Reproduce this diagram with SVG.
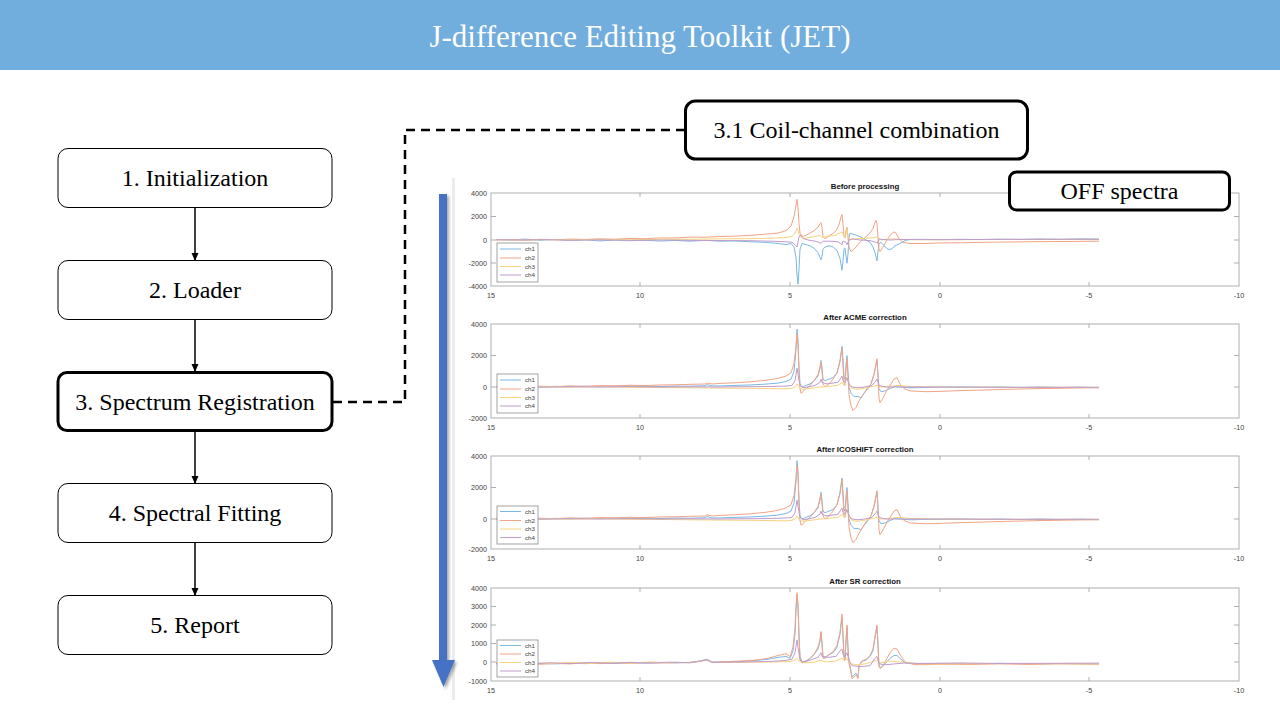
<svg xmlns="http://www.w3.org/2000/svg" xmlns:xlink="http://www.w3.org/1999/xlink" width="1280" height="720" viewBox="0 0 1280 720">
<style>
.hdr{font-family:"Liberation Serif","Times New Roman",serif;font-size:31px;fill:#fff;text-anchor:middle}
.box{fill:#fff;stroke:#000;stroke-width:1}
.boxb{fill:#fff;stroke:#000;stroke-width:3}
.lbl{font-family:"Liberation Serif","Times New Roman",serif;font-size:24px;fill:#000;text-anchor:middle}
.conn{fill:none;stroke:#000;stroke-width:1.5}
.dash{fill:none;stroke:#000;stroke-width:2.5;stroke-dasharray:9 6}
.frame{fill:#fff;stroke:#a6a6a6;stroke-width:0.9}
.tick{fill:none;stroke:#a6a6a6;stroke-width:0.9}
.tly{font-family:"Liberation Sans",Arial,sans-serif;font-size:7.2px;fill:#404040;text-anchor:end}
.tlx{font-family:"Liberation Sans",Arial,sans-serif;font-size:7.2px;fill:#404040;text-anchor:middle}
.ttl{font-family:"Liberation Sans",Arial,sans-serif;font-size:7.8px;font-weight:bold;fill:#111;text-anchor:middle}
.leg{fill:#fff;stroke:#8c8c8c;stroke-width:0.8}
.lt{font-family:"Liberation Sans",Arial,sans-serif;font-size:6.2px;fill:#404040}
.c1{fill:none;stroke:#7ab8e6;stroke-width:1;vector-effect:non-scaling-stroke}
.c2{fill:none;stroke:#f2a484;stroke-width:1;vector-effect:non-scaling-stroke}
.c3{fill:none;stroke:#f7d27e;stroke-width:1;vector-effect:non-scaling-stroke}
.c4{fill:none;stroke:#c09ccd;stroke-width:1;vector-effect:non-scaling-stroke}
</style>
<defs>
<marker id="ah" markerWidth="8" markerHeight="8" refX="7" refY="4" orient="auto" markerUnits="userSpaceOnUse">
<path d="M0,0.5 L8,4 L0,7.5 Z" fill="#000"/>
</marker>
<filter id="sh" x="-50%" y="-5%" width="200%" height="110%">
<feDropShadow dx="2" dy="2" stdDeviation="1.5" flood-color="#000" flood-opacity="0.35"/>
</filter>
<path id="p1c1" class="c1" d="M496,0.5 L510,0 L525,0.8 L540,-0.2 L555,0.5 L570,-0.5 L585,0.2 L600,-0.8 L615,0 L630,-0.6 L645,-0.2 L660,-0.9 L675,-0.4 L690,-1 L705,-0.3 L720,-1 L735,-0.8 L750,-1.5 L765,-2 L778,-3 L786,-4 L791,-3 L794,-6 L796,-15 L797,-30 L798,-38 L799,-25 L800,-8 L802,-3 L806,-4 L810,-5 L814,-7 L818,-11 L820,-15 L821,-17 L822,-14 L823,-8 L825,-6 L829,-5 L833,-6 L837,-9 L840,-16 L842,-26 L843,-18 L844,-8 L845,-7 L846,-14 L847,-20 L848,-12 L849,2 L850,6 L853,5 L857,4 L862,2 L866,0 L870,-2 L873,-6 L875,-11 L877,-18 L878,-10 L879,-3 L881,-2 L884,-5 L888,-8 L891,-8 L895,-5 L900,-3 L905,-0.5 L910,0.5 L925,0.5 L940,0.3 L960,0.6 L980,0.4 L1000,0.7 L1020,0.5 L1040,0.9 L1060,0.6 L1080,1 L1099,0.8"/>
<path id="p1c2" class="c2" d="M496,0 L510,0.5 L525,-0.2 L540,0.6 L555,0.2 L570,0.8 L585,0.5 L600,1 L615,0.7 L630,1.3 L645,1.1 L660,1.8 L675,1.7 L690,2.5 L705,2.4 L720,3 L735,3.3 L750,4 L765,5 L778,6 L786,8 L791,12 L794,20 L796,30 L797,35 L798,28 L799,14 L800,6 L802,3 L806,4 L810,6 L814,8 L818,11 L820,14 L821,15 L822,11 L823,3 L825,1 L828,3 L832,5 L836,8 L839,13 L841,20 L842,22 L843,14 L844,3 L845,2 L846,8 L847,11 L848,2 L849,-6 L851,-10 L854,-8 L858,-4 L862,0 L866,3 L870,6 L873,10 L875,15 L876,17 L877,14 L878,2 L879,-8 L880,-10 L883,-6 L887,0 L891,5 L894,7 L896,6 L899,1 L903,-2 L910,-3 L925,-3 L940,-2.5 L960,-2.4 L980,-2 L1000,-1.8 L1020,-1.6 L1040,-1.4 L1060,-1.3 L1080,-1.2 L1099,-1"/>
<path id="p1c3" class="c3" d="M496,0.3 L520,-0.2 L545,0.4 L570,0 L600,0.5 L630,0.2 L660,0.7 L690,0.6 L720,1 L750,1.2 L770,1.5 L785,2 L792,3 L795,6 L797,10 L798,8 L800,3 L803,1 L808,2 L815,3 L820,4 L822,2 L826,3 L835,4 L840,6 L842,7 L844,3 L846,5 L847,9 L848,4 L850,0 L855,1 L865,1.5 L875,2 L877,3 L879,0 L885,0.5 L895,1 L905,0.3 L940,0.2 L1000,0.5 L1099,0.6"/>
<path id="p1c4" class="c4" d="M496,0.2 L520,0 L545,0.3 L570,-0.2 L600,0.1 L630,-0.3 L660,0 L690,-0.3 L720,-0.5 L750,-0.6 L770,-1 L785,-1.5 L792,-2 L795,-4 L797,-6 L798,-2 L799,3 L801,4 L804,1 L808,0 L815,-1 L819,-2 L821,-3 L823,-1 L830,-1 L838,-1.5 L842,-4 L843,-1 L846,-2 L847,-4 L849,0 L852,1 L860,0 L870,-0.5 L876,-2 L877,-3 L879,1 L882,0.5 L890,0 L900,0.4 L940,0.3 L1000,0.5 L1099,0.6"/>
<path id="p2c1" class="c1" d="M496,0.2 L510,-0.1 L525,0.3 L540,0 L555,0.4 L570,0.1 L585,0.5 L600,0.2 L615,0.6 L630,0.4 L645,0.5 L660,0.3 L675,0.6 L690,0.5 L705,0.8 L707,1.5 L712,0.7 L720,0.7 L735,1 L750,1.3 L765,1.8 L778,2.5 L786,3.5 L791,5 L794,10 L796,24 L797,37 L798,30 L799,12 L800,2 L802,0 L806,1 L810,2 L814,4 L818,7 L820,12 L821,17 L822,12 L823,5 L825,4 L829,5 L833,6 L837,9 L840,17 L842,26 L843,17 L844,6 L845,5 L846,14 L847,20 L848,10 L849,0 L851,-4 L854,-6 L858,-6 L861,-7 L864,-4 L868,-1 L871,2 L874,8 L876,14 L877,17 L878,8 L879,-1 L881,-3 L885,-2.5 L890,-1 L895,0.5 L900,0 L910,-0.5 L925,-0.3 L940,-0.2 L960,0 L980,-0.2 L1000,0 L1020,-0.3 L1040,0 L1060,-0.3 L1080,-0.1 L1099,-0.4"/>
<path id="p2c2" class="c2" d="M496,0 L510,0.4 L525,-0.1 L540,0.5 L555,0.2 L570,0.7 L585,0.4 L600,0.9 L615,0.7 L630,1.1 L645,0.9 L660,1.3 L675,1.4 L690,1.7 L705,1.9 L707,2.6 L712,1.9 L720,2.3 L735,2.7 L750,3.3 L765,4.2 L778,5.5 L786,7 L791,9 L794,15 L796,26 L797,34 L798,27 L799,10 L800,-1 L801,-4 L803,-3 L806,-1 L810,1 L814,4 L818,8 L820,13 L821,16 L822,10 L823,2 L825,0 L829,2 L833,5 L837,9 L840,16 L842,25 L843,14 L844,2 L845,1 L846,11 L847,18 L848,6 L849,-5 L851,-12 L853,-15 L856,-13 L859,-9 L863,-5 L867,-1 L871,2 L874,8 L876,15 L877,18 L878,6 L879,-7 L880,-10 L883,-7 L887,-2 L891,2 L894,5 L897,6 L900,2 L904,-1 L910,-2.5 L925,-3 L940,-2.8 L960,-2.3 L980,-2 L1000,-1.6 L1020,-1.3 L1040,-1 L1060,-0.8 L1080,-0.6 L1099,-0.5"/>
<path id="p2c3" class="c3" d="M496,0.1 L520,-0.2 L545,0.2 L570,-0.1 L600,0.2 L630,-0.2 L660,-0.3 L690,-0.5 L720,-0.7 L750,-0.8 L770,-1 L785,-1.2 L792,-0.8 L795,0 L797,2 L798,1 L800,-1 L803,-1.5 L808,-1 L815,-0.5 L820,0 L822,0 L830,0.5 L838,1 L842,3 L844,1 L847,6 L849,2 L852,-1 L857,-1.5 L863,-1 L870,0 L877,1 L880,0 L890,0.5 L900,1 L910,0.3 L940,0 L1000,-0.2 L1099,-0.2"/>
<path id="p2c4" class="c4" d="M496,0 L520,0.2 L545,-0.1 L570,0.2 L600,0 L630,0.2 L660,0 L690,0.1 L720,0 L750,0.2 L770,0.3 L785,0.6 L792,1 L795,4 L797,12 L798,8 L800,1 L803,-0.5 L808,0 L815,1 L820,3 L821,5 L822,3 L826,2 L833,2.5 L838,3 L841,6 L842,7 L843,4 L845,3 L847,6 L849,2 L852,0 L858,-0.5 L865,0 L872,1 L876,4 L877,5 L879,1 L885,0 L895,0 L940,0 L1000,-0.2 L1099,-0.2"/>
<path id="p4c1" class="c1" d="M496,-1 L510,-0.6 L525,-1.2 L540,-0.8 L555,-1 L570,-0.6 L585,-0.9 L600,-0.5 L615,-0.8 L630,-0.4 L645,-0.6 L660,-0.3 L675,-0.5 L690,-0.2 L700,0.5 L707,1.5 L712,0 L725,0 L740,0.3 L755,0.8 L768,1.5 L778,2.5 L786,3 L790,2 L793,6 L795,15 L796,28 L797,36 L798,30 L799,14 L800,3 L802,0 L806,0.5 L810,2 L814,4 L818,7 L820,11 L821,16 L822,10 L823,3 L825,2.5 L829,4 L833,5 L837,8 L840,15 L842,24 L843,14 L844,3 L845,2 L846,11 L847,19 L848,7 L849,0 L850,-2 L852,-8 L854,-7 L856,-6 L858,-8 L859,-2 L862,0.5 L866,1 L870,3 L873,6 L875,13 L877,19 L878,9 L879,-2 L881,-3 L885,-1 L890,2 L894,3.5 L897,3.5 L900,2 L905,-0.5 L915,-1 L940,-0.8 L970,-1 L1000,-0.7 L1030,-1 L1060,-0.8 L1099,-1"/>
<path id="p4c2" class="c2" d="M496,-0.6 L510,-1.1 L525,-0.7 L540,-1.2 L555,-0.8 L570,-1 L585,-0.5 L600,-0.9 L615,-0.4 L630,-0.7 L645,-0.3 L660,-0.5 L675,-0.2 L690,-0.4 L700,0.3 L707,1.2 L712,-0.2 L725,0.2 L740,0.5 L755,1 L768,2 L778,3.5 L786,4.5 L790,3 L793,8 L795,18 L796,30 L797,37.5 L798,31 L799,14 L800,2 L802,-0.5 L806,0 L810,2 L814,4 L818,8 L820,12 L821,16.5 L822,10 L823,2 L825,2 L829,4 L833,5.5 L837,9 L840,16 L842,26 L843,14 L844,2 L845,1 L846,12 L847,20 L848,7 L849,-1 L850,-3 L852,-9 L854,-8 L856,-7 L858,-9 L859,-2 L862,0.5 L866,1.5 L870,3.5 L873,7 L875,14 L877,20 L878,9 L879,-3 L881,-3.5 L885,0 L890,5 L894,7.5 L897,7 L900,4 L905,0 L915,-1.5 L940,-1.2 L970,-1.3 L1000,-1 L1030,-1.3 L1060,-1 L1099,-1.2"/>
<path id="p4c3" class="c3" d="M496,-0.5 L515,-1 L530,-0.3 L550,-0.9 L570,-0.2 L590,-0.8 L610,-0.1 L630,-0.6 L650,0 L670,-0.5 L690,-0.2 L707,1 L712,-0.3 L740,-0.2 L770,0 L790,0.2 L795,1 L797,2 L799,0.5 L805,-0.5 L815,0 L821,1 L825,0 L835,0.5 L842,2 L845,0.5 L847,2 L850,-1 L858,-1.5 L865,-1 L877,1 L880,-0.5 L890,0.5 L900,0 L920,-1 L960,-1 L1000,-0.8 L1099,-1"/>
<path id="p4c4" class="c4" d="M496,-0.8 L515,-0.3 L530,-1 L550,-0.4 L570,-0.9 L590,-0.3 L610,-0.7 L630,-0.2 L650,-0.6 L670,-0.1 L690,-0.4 L707,1.2 L712,-0.2 L740,0 L770,0.3 L785,0.8 L792,1.5 L795,5 L797,12 L798,8 L800,1 L803,0 L810,1 L818,2.5 L821,5 L822,3 L828,2.5 L836,3 L840,6 L842,7 L843,4 L845,3 L847,5 L849,1 L852,-2 L860,-2.5 L870,-2 L875,2 L877,3 L879,-1 L885,-1.5 L895,-1 L905,-0.5 L920,-0.8 L960,-0.5 L1000,-0.8 L1099,-0.6"/>
</defs>

<rect x="0" y="0" width="1280" height="720" fill="#fff"/>

<g id="header">
<rect x="0" y="0" width="1280" height="70" fill="#71addd"/>
<text class="hdr" x="640" y="47">J-difference Editing Toolkit (JET)</text>
</g>

<g id="plots">
<rect x="452" y="178" width="3" height="522" fill="#ececec"/>
<g id="panel1">
<rect class="frame" x="491" y="193" width="748" height="93"/>
<path class="tick" d="M640,193v4M790,193v4M940,193v4M1089,193v4M640,286v-4M790,286v-4M940,286v-4M1089,286v-4M491,216.5h5M491,240h5M491,263h5M1239,216.5h-5M1239,240h-5M1239,263h-5"/>
<g transform="translate(0,240) scale(1,-1.1625)">
<use xlink:href="#p1c1"/><use xlink:href="#p1c2"/><use xlink:href="#p1c3"/><use xlink:href="#p1c4"/>
</g>
<text class="ttl" x="865" y="189">Before processing</text>
<text class="tly" x="487" y="195.5">4000</text><text class="tly" x="487" y="219">2000</text><text class="tly" x="487" y="242.5">0</text><text class="tly" x="487" y="265.5">-2000</text><text class="tly" x="487" y="288.5">-4000</text>
<text class="tlx" x="491" y="298">15</text><text class="tlx" x="640" y="298">10</text><text class="tlx" x="790" y="298">5</text><text class="tlx" x="940" y="298">0</text><text class="tlx" x="1089" y="298">-5</text><text class="tlx" x="1239" y="298">-10</text>
<rect class="leg" x="497" y="243" width="41" height="39"/>
<line x1="500" y1="249" x2="521" y2="249" stroke="#7ab8e6"/><text class="lt" x="525" y="251">ch1</text>
<line x1="500" y1="258" x2="521" y2="258" stroke="#f2a484"/><text class="lt" x="525" y="260">ch2</text>
<line x1="500" y1="266.5" x2="521" y2="266.5" stroke="#f7d27e"/><text class="lt" x="525" y="268.5">ch3</text>
<line x1="500" y1="275" x2="521" y2="275" stroke="#c09ccd"/><text class="lt" x="525" y="277">ch4</text>
</g>
<g id="panel2">
<rect class="frame" x="491" y="324" width="748" height="94"/>
<path class="tick" d="M640,324v4M790,324v4M940,324v4M1089,324v4M640,418v-4M790,418v-4M940,418v-4M1089,418v-4M491,355.5h5M491,387h5M1239,355.5h-5M1239,387h-5"/>
<g transform="translate(0,387) scale(1,-1.565)">
<use xlink:href="#p2c1"/><use xlink:href="#p2c2"/><use xlink:href="#p2c3"/><use xlink:href="#p2c4"/>
</g>
<text class="ttl" x="865" y="320">After ACME correction</text>
<text class="tly" x="487" y="326.5">4000</text><text class="tly" x="487" y="358">2000</text><text class="tly" x="487" y="389.5">0</text><text class="tly" x="487" y="420.5">-2000</text>
<text class="tlx" x="491" y="430">15</text><text class="tlx" x="640" y="430">10</text><text class="tlx" x="790" y="430">5</text><text class="tlx" x="940" y="430">0</text><text class="tlx" x="1089" y="430">-5</text><text class="tlx" x="1239" y="430">-10</text>
<rect class="leg" x="497" y="374" width="41" height="39"/>
<line x1="500" y1="380" x2="521" y2="380" stroke="#7ab8e6"/><text class="lt" x="525" y="382">ch1</text>
<line x1="500" y1="389" x2="521" y2="389" stroke="#f2a484"/><text class="lt" x="525" y="391">ch2</text>
<line x1="500" y1="397.5" x2="521" y2="397.5" stroke="#f7d27e"/><text class="lt" x="525" y="399.5">ch3</text>
<line x1="500" y1="406" x2="521" y2="406" stroke="#c09ccd"/><text class="lt" x="525" y="408">ch4</text>
</g>
<g id="panel3">
<rect class="frame" x="491" y="456" width="748" height="93"/>
<path class="tick" d="M640,456v4M790,456v4M940,456v4M1089,456v4M640,549v-4M790,549v-4M940,549v-4M1089,549v-4M491,487.5h5M491,519h5M1239,487.5h-5M1239,519h-5"/>
<g transform="translate(0,519) scale(1,-1.575)">
<use xlink:href="#p2c1"/><use xlink:href="#p2c2"/><use xlink:href="#p2c3"/><use xlink:href="#p2c4"/>
</g>
<text class="ttl" x="865" y="452">After ICOSHIFT correction</text>
<text class="tly" x="487" y="458.5">4000</text><text class="tly" x="487" y="490">2000</text><text class="tly" x="487" y="521.5">0</text><text class="tly" x="487" y="551.5">-2000</text>
<text class="tlx" x="491" y="561">15</text><text class="tlx" x="640" y="561">10</text><text class="tlx" x="790" y="561">5</text><text class="tlx" x="940" y="561">0</text><text class="tlx" x="1089" y="561">-5</text><text class="tlx" x="1239" y="561">-10</text>
<rect class="leg" x="497" y="506" width="41" height="38"/>
<line x1="500" y1="511.5" x2="521" y2="511.5" stroke="#7ab8e6"/><text class="lt" x="525" y="513.5">ch1</text>
<line x1="500" y1="520.5" x2="521" y2="520.5" stroke="#f2a484"/><text class="lt" x="525" y="522.5">ch2</text>
<line x1="500" y1="529" x2="521" y2="529" stroke="#f7d27e"/><text class="lt" x="525" y="531">ch3</text>
<line x1="500" y1="537.5" x2="521" y2="537.5" stroke="#c09ccd"/><text class="lt" x="525" y="539.5">ch4</text>
</g>
<g id="panel4">
<rect class="frame" x="491" y="588" width="748" height="93"/>
<path class="tick" d="M640,588v4M790,588v4M940,588v4M1089,588v4M640,681v-4M790,681v-4M940,681v-4M1089,681v-4M491,606.5h5M491,625h5M491,643.5h5M491,662h5M1239,606.5h-5M1239,625h-5M1239,643.5h-5M1239,662h-5"/>
<g transform="translate(0,662) scale(1,-1.85)">
<use xlink:href="#p4c1"/><use xlink:href="#p4c2"/><use xlink:href="#p4c3"/><use xlink:href="#p4c4"/>
</g>
<text class="ttl" x="865" y="584">After SR correction</text>
<text class="tly" x="487" y="590.5">4000</text><text class="tly" x="487" y="609">3000</text><text class="tly" x="487" y="627.5">2000</text><text class="tly" x="487" y="646">1000</text><text class="tly" x="487" y="664.5">0</text><text class="tly" x="487" y="683.5">-1000</text>
<text class="tlx" x="491" y="693">15</text><text class="tlx" x="640" y="693">10</text><text class="tlx" x="790" y="693">5</text><text class="tlx" x="940" y="693">0</text><text class="tlx" x="1089" y="693">-5</text><text class="tlx" x="1239" y="693">-10</text>
<rect class="leg" x="497" y="640" width="41" height="37"/>
<line x1="500" y1="645.5" x2="521" y2="645.5" stroke="#7ab8e6"/><text class="lt" x="525" y="647.5">ch1</text>
<line x1="500" y1="654" x2="521" y2="654" stroke="#f2a484"/><text class="lt" x="525" y="656">ch2</text>
<line x1="500" y1="662.5" x2="521" y2="662.5" stroke="#f7d27e"/><text class="lt" x="525" y="664.5">ch3</text>
<line x1="500" y1="671" x2="521" y2="671" stroke="#c09ccd"/><text class="lt" x="525" y="673">ch4</text>
</g>
</g>

<g id="flow-arrow" filter="url(#sh)">
<path d="M439,194 H447 V660 H455 L443.5,687 L432,660 H439 Z" fill="#4472c4"/>
</g>

<g id="connectors">
<line class="conn" x1="195" y1="208" x2="195" y2="260" marker-end="url(#ah)"/>
<line class="conn" x1="195" y1="319" x2="195" y2="371" marker-end="url(#ah)"/>
<line class="conn" x1="195" y1="431" x2="195" y2="483" marker-end="url(#ah)"/>
<line class="conn" x1="195" y1="542" x2="195" y2="595" marker-end="url(#ah)"/>
<path class="dash" d="M333,402 H405 V130 H685"/>
</g>

<g id="n1"><rect class="box" x="58" y="148.5" width="274" height="59" rx="10"/><text class="lbl" x="195" y="186">1. Initialization</text></g>
<g id="n2"><rect class="box" x="58" y="260.5" width="274" height="59" rx="10"/><text class="lbl" x="195" y="298">2. Loader</text></g>
<g id="n3"><rect class="boxb" x="58" y="372.5" width="274" height="58" rx="9"/><text class="lbl" x="195" y="410">3. Spectrum Registration</text></g>
<g id="n4"><rect class="box" x="58" y="483.5" width="274" height="59" rx="10"/><text class="lbl" x="195" y="521">4. Spectral Fitting</text></g>
<g id="n5"><rect class="box" x="58" y="595.5" width="274" height="59" rx="10"/><text class="lbl" x="195" y="633">5. Report</text></g>
<g id="n31"><rect class="boxb" x="685.5" y="101" width="342" height="58" rx="10"/><text class="lbl" x="856.5" y="138">3.1 Coil-channel combination</text></g>
<g id="noff"><rect class="boxb" x="1009.5" y="172" width="220" height="38" rx="7"/><text class="lbl" x="1119.5" y="199">OFF spectra</text></g>
</svg>
